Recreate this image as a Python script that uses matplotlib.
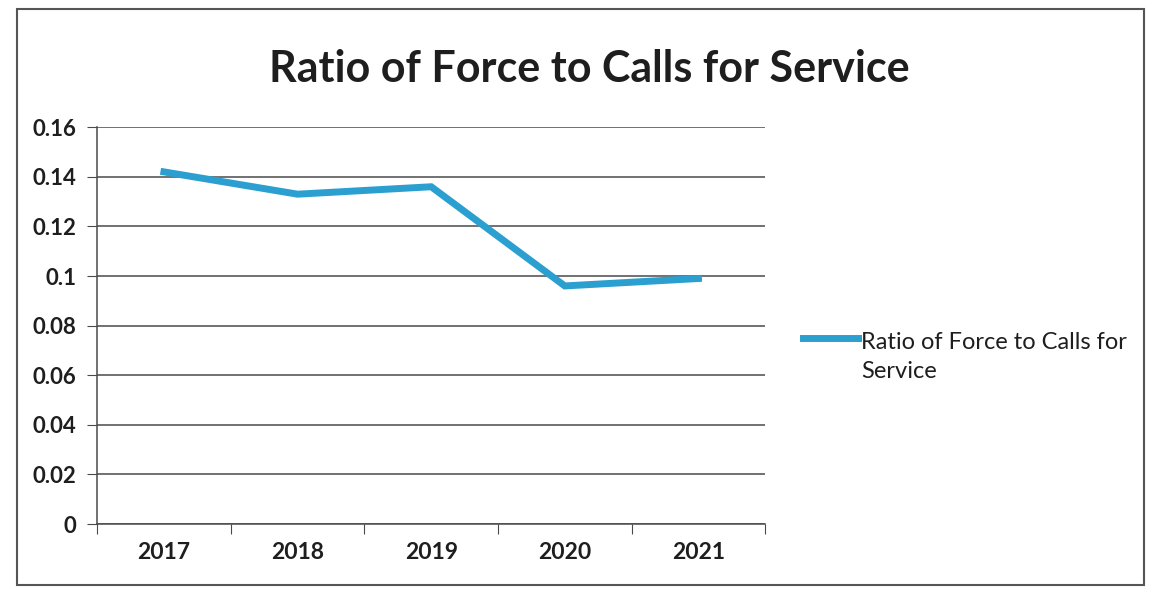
import matplotlib.pyplot as plt
import matplotlib.patches as patches
from matplotlib.lines import Line2D
import numpy as np

plt.rcParams['font.family'] = ['Lato', 'DejaVu Sans']

# Ratio of use of force to calls for service, by year
years = ['2017', '2018', '2019', '2020', '2021']
ratio = [0.142, 0.133, 0.136, 0.096, 0.099]
yticks = [0, 0.02, 0.04, 0.06, 0.08, 0.1, 0.12, 0.14, 0.16]
ytick_labels = ['0', '0.02', '0.04', '0.06', '0.08', '0.1', '0.12', '0.14', '0.16']
series_name = 'Ratio of Force to Calls for Service'

line_color = '#2B9FCF'
grid_color = '#4a4a4a'
text_color = '#1e1e1e'

fig = plt.figure(figsize=(11.56, 6.03), dpi=100)
fig.patch.set_facecolor('white')

# chart border
fig.patches.append(patches.Rectangle((0.015, 0.03), 0.975, 0.955, transform=fig.transFigure,
                                     fill=False, edgecolor='#555555', linewidth=1.5))

ax = fig.add_axes([0.084, 0.131, 0.578, 0.658])
x = np.arange(len(years))
ax.plot(x, ratio, color=line_color, linewidth=5, solid_joinstyle='miter')

ax.set_xlim(-0.5, len(years) - 0.5)
ax.set_ylim(0, 0.16)
ax.set_yticks(yticks)
ax.set_yticklabels(ytick_labels, fontsize=16, fontweight='bold', color=text_color)
ax.yaxis.grid(True, color=grid_color, linewidth=1.1)
ax.set_axisbelow(True)

# category labels centered, tick marks between categories
ax.set_xticks(np.arange(-0.5, len(years), 1.0))
ax.set_xticklabels([])
ax.set_xticks(x, minor=True)
ax.set_xticklabels(years, minor=True, fontsize=16.5, fontweight='bold', color=text_color)
ax.tick_params(axis='x', which='minor', length=0, pad=13)
ax.tick_params(axis='x', which='major', length=7, direction='out', color=grid_color)
ax.tick_params(axis='y', length=7, direction='out', color=grid_color, pad=8)

for side in ['top', 'right']:
    ax.spines[side].set_visible(False)
for side in ['left', 'bottom']:
    ax.spines[side].set_color(grid_color)
    ax.spines[side].set_linewidth(1.1)

fig.text(0.51, 0.885, series_name, fontsize=31, fontweight='bold',
         color=text_color, ha='center', va='center')

# legend: line sample followed by wrapped series name
fig.add_artist(Line2D([0.695, 0.742], [0.4395, 0.4395], color=line_color, linewidth=5,
                      transform=fig.transFigure))
fig.text(0.745, 0.449, 'Ratio of Force to Calls for\nService', fontsize=17,
         color=text_color, ha='left', va='top', linespacing=1.45)

fig.savefig('out.png', dpi=100, facecolor='white')
